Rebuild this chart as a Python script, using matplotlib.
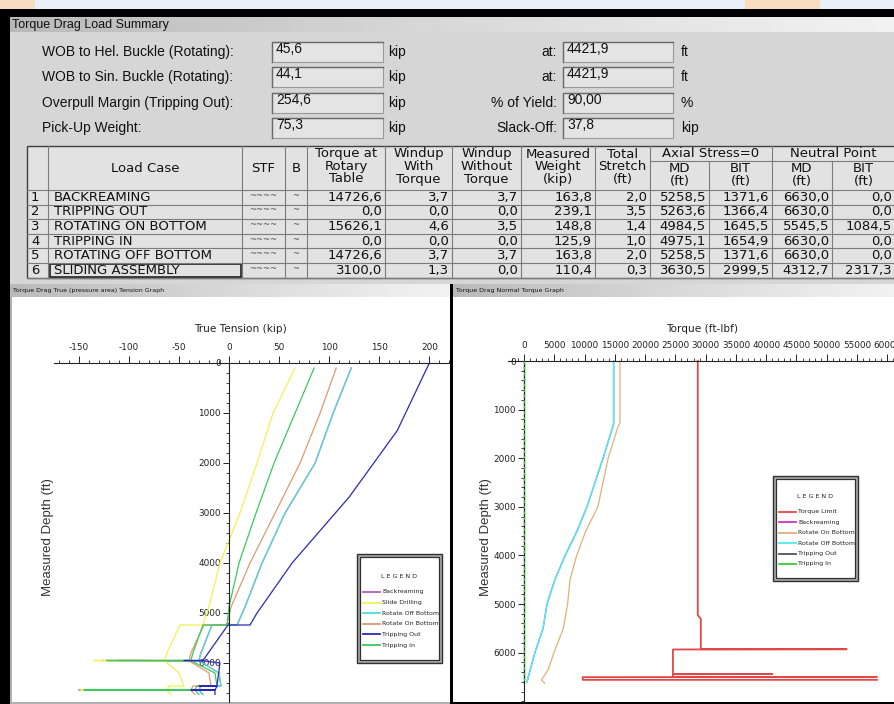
import numpy as np
import matplotlib
matplotlib.use('Agg')
import matplotlib.pyplot as plt
from matplotlib import font_manager
from matplotlib.patches import Rectangle

W, H = 895, 704

# ---------------- summary fields ----------------
left_labels = ['WOB to Hel. Buckle (Rotating):', 'WOB to Sin. Buckle (Rotating):',
               'Overpull Margin (Tripping Out):', 'Pick-Up Weight:']
left_values = [45.6, 44.1, 254.6, 75.3]
left_units = ['kip', 'kip', 'kip', 'kip']
right_labels = ['at:', 'at:', '% of Yield:', 'Slack-Off:']
right_values = ['4421,9', '4421,9', '90,00', '37,8']
right_units = ['ft', 'ft', '%', 'kip']

# ---------------- load table ----------------
load_cases = ['BACKREAMING', 'TRIPPING OUT', 'ROTATING ON BOTTOM', 'TRIPPING IN',
              'ROTATING OFF BOTTOM', 'SLIDING ASSEMBLY']
torque_rt = [14726.6, 0.0, 15626.1, 0.0, 14726.6, 3100.0]
windup_with = [3.7, 0.0, 4.6, 0.0, 3.7, 1.3]
windup_without = [3.7, 0.0, 3.5, 0.0, 3.7, 0.0]
measured_weight = [163.8, 239.1, 148.8, 125.9, 163.8, 110.4]
total_stretch = [2.0, 3.5, 1.4, 1.0, 2.0, 0.3]
axial_md = [5258.5, 5263.6, 4984.5, 4975.1, 5258.5, 3630.5]
axial_bit = [1371.6, 1366.4, 1645.5, 1654.9, 1371.6, 2999.5]
neutral_md = [6630.0, 6630.0, 5545.5, 6630.0, 6630.0, 4312.7]
neutral_bit = [0.0, 0.0, 1084.5, 0.0, 0.0, 2317.3]

# ---------------- tension graph (kip vs ft) ----------------
md_tension = [100, 1000, 2000, 3000, 4000, 4880, 5240, 5240, 5800, 5950, 5950, 5955,
              6200, 6460, 6460, 6540, 6540, 6545, 6630]
slide_drilling_t = [66, 44, 28, 11, -9, -20, -26, -49, -62, -64, -135, -64, -50, -45, -60, -62, -148, -62, -58]
tripping_in_t = [85, 66, 45, 27, 10, 0, -2, -26, -36, -38, -122, -38, -14, -12, -32, -34, -145, -34, -30]
rotate_on_t = [107, 91, 71, 46, 21, 2, -2, -25, -38, -40, -128, -40, -20, -18, -36, -38, -150, -38, -34]
rotate_off_t = [122, 104, 86, 56, 33, 16, 8, -17, -28, -30, -110, -30, -10, -8, -28, -30, -140, -30, -26]
backreaming_t = [122, 104, 86, 56, 33, 16, 8, -17, -28, -30, -110, -30, -10, -8, -28, -30, -140, -30, -26]
md_trip_out = [0, 1350, 2680, 4000, 5000, 5240, 5240, 5950, 5950, 5955, 6000, 6460, 6460,
               6465, 6540, 6540, 6545, 6630]
tripping_out_t = [200, 168, 120, 63, 28, 21, -1, -26, -45, -26, -9, -12, -30, -12, -14, -38, -14, -14]

# ---------------- torque graph (ft-lbf vs ft) ----------------
md_limit = [0, 5230, 5300, 5930, 5930, 5935, 6440, 6440, 6445, 6500, 6500, 6505, 6560, 6560]
torque_limit = [28700, 28700, 29200, 29200, 53300, 24600, 24600, 41000, 24600, 24600, 58300, 9700, 9700, 58300]
md_rot_on = [0, 1275, 1360, 2000, 3000, 3500, 4000, 4500, 5000, 5500, 6000, 6350, 6560, 6630]
rot_on_torque = [15850, 15850, 15500, 13900, 12200, 10200, 8700, 7600, 7200, 6500, 4950, 4000, 2900, 3400]
md_rot_off = [0, 1300, 2000, 3000, 3500, 4000, 4500, 5000, 5500, 6000, 6600]
rot_off_torque = [14800, 14800, 13050, 10400, 8750, 6800, 5100, 3800, 3150, 1800, 500]
backream_torque = [14800, 14800, 13050, 10400, 8750, 6800, 5100, 3800, 3150, 1800, 500]
md_zero = [0, 6630]
trip_torque = [0, 0]

# ---------------- fonts ----------------
avail = {f.name for f in font_manager.fontManager.ttflist}
if 'Liberation Sans Narrow' in avail:
    NARROW, NS = 'Liberation Sans Narrow', 1.0
else:
    NARROW, NS = 'DejaVu Sans', 0.8
UI = 'Liberation Sans' if 'Liberation Sans' in avail else 'DejaVu Sans'
plt.rcParams['font.family'] = [NARROW]
plt.rcParams['axes.unicode_minus'] = False

fig = plt.figure(figsize=(W / 100, H / 100), dpi=100)
fig.patch.set_facecolor('black')


def px_box(x0, y0, x1, y1):
    return [x0 / W, 1 - y1 / H, (x1 - x0) / W, (y1 - y0) / H]


def rect(ax, x0, y0, x1, y1, **kw):
    ax.add_patch(Rectangle((x0, y0), x1 - x0, y1 - y0, **kw))


bg = fig.add_axes([0, 0, 1, 1], zorder=0)
bg.set_xlim(0, W)
bg.set_ylim(H, 0)
bg.axis('off')

# video background strip at the top
rect(bg, 0, 0, W, 9, fc='#eaf0f8', ec='none')
rect(bg, 0, 0, 35, 9, fc='#f6dcc0', ec='none')
rect(bg, 745, 0, 820, 9, fc='#f8dcc0', ec='none')

# summary panel
rect(bg, 10, 17, W, 284, fc='#d6d6d6', ec='none')
grad = np.linspace(0, 1, 256).reshape(1, -1)
for (x0, y0, x1, y1) in [(10, 17, W, 32), (10, 284, 450, 297), (453, 284, W, 297)]:
    bg.imshow(grad, extent=(x0, x1, y1, y0), cmap='Greys_r', vmin=-2.2, vmax=1.4,
              aspect='auto', zorder=1)
bg.text(12, 25, 'Torque Drag Load Summary', fontsize=9, family=UI, va='center', color='#111')
bg.text(13, 290.5, 'Torque Drag True (pressure area) Tension Graph', fontsize=5.6 * NS,
        va='center', color='#111')
bg.text(456, 290.5, 'Torque Drag Normal Torque Graph', fontsize=5.6 * NS, va='center', color='#111')

# plot backgrounds
rect(bg, 10, 297, 450, 704, fc='#b0b0b0', ec='none')
rect(bg, 12, 297, 450, 702, fc='white', ec='none')
rect(bg, 453, 297, W, 702, fc='white', ec='none')


def sunken(x0, y0, x1, y1):
    rect(bg, x0, y0, x1, y1, fc='#e4e4e4', ec='#9a9a9a', lw=0.8)
    bg.plot([x0, x0, x1], [y1, y0, y0], color='#6a6a6a', lw=1.0)


field_y = [52, 77, 103, 128]
for i in range(4):
    y = field_y[i]
    bg.text(42, y, left_labels[i], fontsize=10, family=UI, va='center', color='#111')
    sunken(272, y - 10, 383, y + 10)
    bg.text(276, y - 3, f'{left_values[i]:.1f}'.replace('.', ','), fontsize=10, family=UI,
            va='center', color='#111')
    bg.text(388, y, left_units[i], fontsize=10, family=UI, va='center', color='#111')
    bg.text(557, y, right_labels[i], fontsize=10, family=UI, va='center', ha='right', color='#111')
    sunken(563, y - 10, 673, y + 10)
    bg.text(567, y - 3, right_values[i], fontsize=10, family=UI, va='center', color='#111')
    bg.text(681, y, right_units[i], fontsize=10, family=UI, va='center', color='#111')

# table
cols = [27, 48, 242, 285, 307, 385, 452, 521, 595, 650, 709, 772, 832, 895]
top, head, row_h = 146, 190, 14.6
nrows = len(load_cases)
bottom = head + row_h * nrows
rect(bg, 27, top, W, bottom, fc='#e2e2e2', ec='#404040', lw=1)
gl = dict(color='#7c7c7c', lw=0.8)
for x in cols[1:-1]:
    y_start = 161 if x in (709, 832) else top
    bg.plot([x, x], [y_start, bottom], **gl)
bg.plot([650, W], [161, 161], **gl)
for k in range(nrows + 1):
    bg.plot([27, W], [head + row_h * k] * 2, **gl)

tf = dict(fontsize=9.5, family='DejaVu Sans', va='center', color='#111')
bg.text(145, 168, 'Load Case', ha='center', **tf)
bg.text(263.5, 168, 'STF', ha='center', **tf)
bg.text(296, 168, 'B', ha='center', **tf)
headers = [['Torque at', 'Rotary', 'Table'], ['Windup', 'With', 'Torque'],
           ['Windup', 'Without', 'Torque'], ['Measured', 'Weight', '(kip)'],
           ['Total', 'Stretch', '(ft)']]
for j, lines in enumerate(headers):
    cx = (cols[4 + j] + cols[5 + j]) / 2
    for k, s in enumerate(lines):
        bg.text(cx, 154 + 12.5 * k, s, ha='center', **tf)
bg.text((650 + 772) / 2, 153.5, 'Axial Stress=0', ha='center', **tf)
bg.text((772 + 895) / 2, 153.5, 'Neutral Point', ha='center', **tf)
for j in range(4):
    cx = (cols[9 + j] + cols[10 + j]) / 2
    bg.text(cx, 168, ['MD', 'BIT'][j % 2], ha='center', **tf)
    bg.text(cx, 181, '(ft)', ha='center', **tf)

num_cols = [torque_rt, windup_with, windup_without, measured_weight, total_stretch,
            axial_md, axial_bit, neutral_md, neutral_bit]
for i in range(nrows):
    cy = head + row_h * (i + 0.5)
    bg.text(31, cy, str(i + 1), ha='left', **tf)
    bg.text(54, cy, load_cases[i], ha='left', **tf)
    bg.text(263.5, cy - 2, '~~~~', ha='center', fontsize=6, color='#555', va='center')
    bg.text(296, cy - 2, '~', ha='center', fontsize=6, color='#555', va='center')
    for j, vals in enumerate(num_cols):
        bg.text(cols[5 + j] - 3, cy, f'{vals[i]:.1f}'.replace('.', ','), ha='right', **tf)
rect(bg, 50, head + row_h * 5 + 1, 241, bottom - 1, fc='none', ec='#111', lw=1.1)

# black separator and edges
rect(bg, 450, 284, 453, 704, fc='black', ec='none', zorder=3)


# ---------------- plot axes helper ----------------
def style_axes(ax, xlim, ylim, xmajor, xminor, ymajor, yminor, xbound):
    ax.set_xlim(*xlim)
    ax.set_ylim(*ylim)
    ax.set_facecolor('white')
    for s in ['right', 'bottom']:
        ax.spines[s].set_visible(False)
    ax.spines['left'].set_position(('data', 0))
    ax.spines['top'].set_position(('data', 0))
    ax.spines['top'].set_bounds(xbound, xlim[1])
    ax.spines['left'].set_bounds(0, ylim[0])
    for s in ['left', 'top']:
        ax.spines[s].set_linewidth(0.8)
        ax.spines[s].set_color('#222')
    ax.xaxis.tick_top()
    ax.set_xticks(xmajor)
    ax.set_xticks(xminor, minor=True)
    ax.set_yticks(ymajor)
    ax.set_yticks(yminor, minor=True)
    ax.tick_params(axis='x', which='major', length=5, width=0.7, pad=3, labelsize=8 * NS,
                   colors='#222')
    ax.tick_params(axis='x', which='minor', length=2.5, width=0.6, colors='#222')
    ax.tick_params(axis='y', which='major', length=4, width=0.7, pad=2, labelsize=8 * NS,
                   colors='#222')
    ax.tick_params(axis='y', which='minor', length=2, width=0.6, colors='#222')


axL = fig.add_axes(px_box(18, 297, 450, 702), zorder=2)
style_axes(axL, (-210.6, 220.6), (6780, -1320), range(-150, 201, 50), range(-170, 221, 10),
           range(0, 6001, 1000), range(0, 6781, 200), -175)
lw = 0.9
axL.plot(backreaming_t, md_tension, color='#b060c0', lw=lw)
axL.plot(rotate_off_t, md_tension, color='#50dcd4', lw=lw)
axL.plot(rotate_on_t, md_tension, color='#dc9a70', lw=lw)
axL.plot(slide_drilling_t, md_tension, color='#f2f250', lw=lw)
axL.plot(tripping_in_t, md_tension, color='#3cc85a', lw=lw)
axL.plot(tripping_out_t, md_trip_out, color='#2a2ab8', lw=lw)

axR = fig.add_axes(px_box(455, 297, 895, 702), zorder=2)
style_axes(axR, (-11395, 61272), (7016, -1317), range(0, 60001, 5000), range(-2000, 61001, 1000),
           range(0, 6001, 1000), range(0, 7001, 200), -2600)
axR.plot(torque_limit, md_limit, color='#e04848', lw=1.3)
axR.plot(backream_torque, md_rot_off, color='#d030d0', lw=lw)
axR.plot(rot_off_torque, md_rot_off, color='#50ecec', lw=1.1)
axR.plot(rot_on_torque, md_rot_on, color='#e0b078', lw=lw)
axR.plot(trip_torque, md_zero, color='#505060', lw=lw)
axR.plot(trip_torque, md_zero, color='#30d030', lw=1.0, ls=(0, (2, 2)), zorder=3, clip_on=False)

# ---------------- overlay: axis titles and legends ----------------
top_ax = fig.add_axes([0, 0, 1, 1], zorder=5)
top_ax.set_xlim(0, W)
top_ax.set_ylim(H, 0)
top_ax.axis('off')
top_ax.patch.set_visible(False)

top_ax.text(240, 329, 'True Tension (kip)', fontsize=9.5 * NS, ha='center', va='center', color='#222')
top_ax.text(702, 329, 'Torque (ft-lbf)', fontsize=9.5 * NS, ha='center', va='center', color='#222')
top_ax.text(48, 537, 'Measured Depth (ft)', fontsize=9.5, family=UI, rotation=90,
            ha='center', va='center', color='#333')
top_ax.text(486, 537, 'Measured Depth (ft)', fontsize=9.5, family=UI, rotation=90,
            ha='center', va='center', color='#333')

legL_names = ['Backreaming', 'Slide Drilling', 'Rotate Off Bottom', 'Rotate On Bottom',
              'Tripping Out', 'Tripping In']
legL_colors = ['#b060c0', '#f2f250', '#50dcd4', '#dc9a70', '#2a2ab8', '#3cc85a']
legR_names = ['Torque Limit', 'Backreaming', 'Rotate On Bottom', 'Rotate Off Bottom',
              'Tripping Out', 'Tripping In']
legR_colors = ['#e04848', '#d030d0', '#e0b078', '#50ecec', '#505060', '#30d030']


def legend_box(x0, y0, x1, y1, title_y, first_y, step, names, colors):
    rect(top_ax, x0, y0, x1, y1, fc='#a8a8a8', ec='#303030', lw=1)
    rect(top_ax, x0 + 3, y0 + 3, x1 - 3, y1 - 3, fc='white', ec='#303030', lw=0.9)
    top_ax.text((x0 + x1) / 2, title_y, 'L E G E N D', fontsize=5.8 * NS, ha='center',
                va='center', color='#222')
    for k, (n, c) in enumerate(zip(names, colors)):
        y = first_y + step * k
        top_ax.plot([x0 + 6, x0 + 23], [y, y], color=c, lw=1.3)
        top_ax.text(x0 + 25, y, n, fontsize=5.6 * NS, va='center', color='#222')


legend_box(357, 554, 442, 663, 576, 592, 10.6, legL_names, legL_colors)
legend_box(773, 476, 858, 581, 496, 512, 10.4, legR_names, legR_colors)

fig.savefig('out.png', dpi=100, facecolor=fig.get_facecolor())
